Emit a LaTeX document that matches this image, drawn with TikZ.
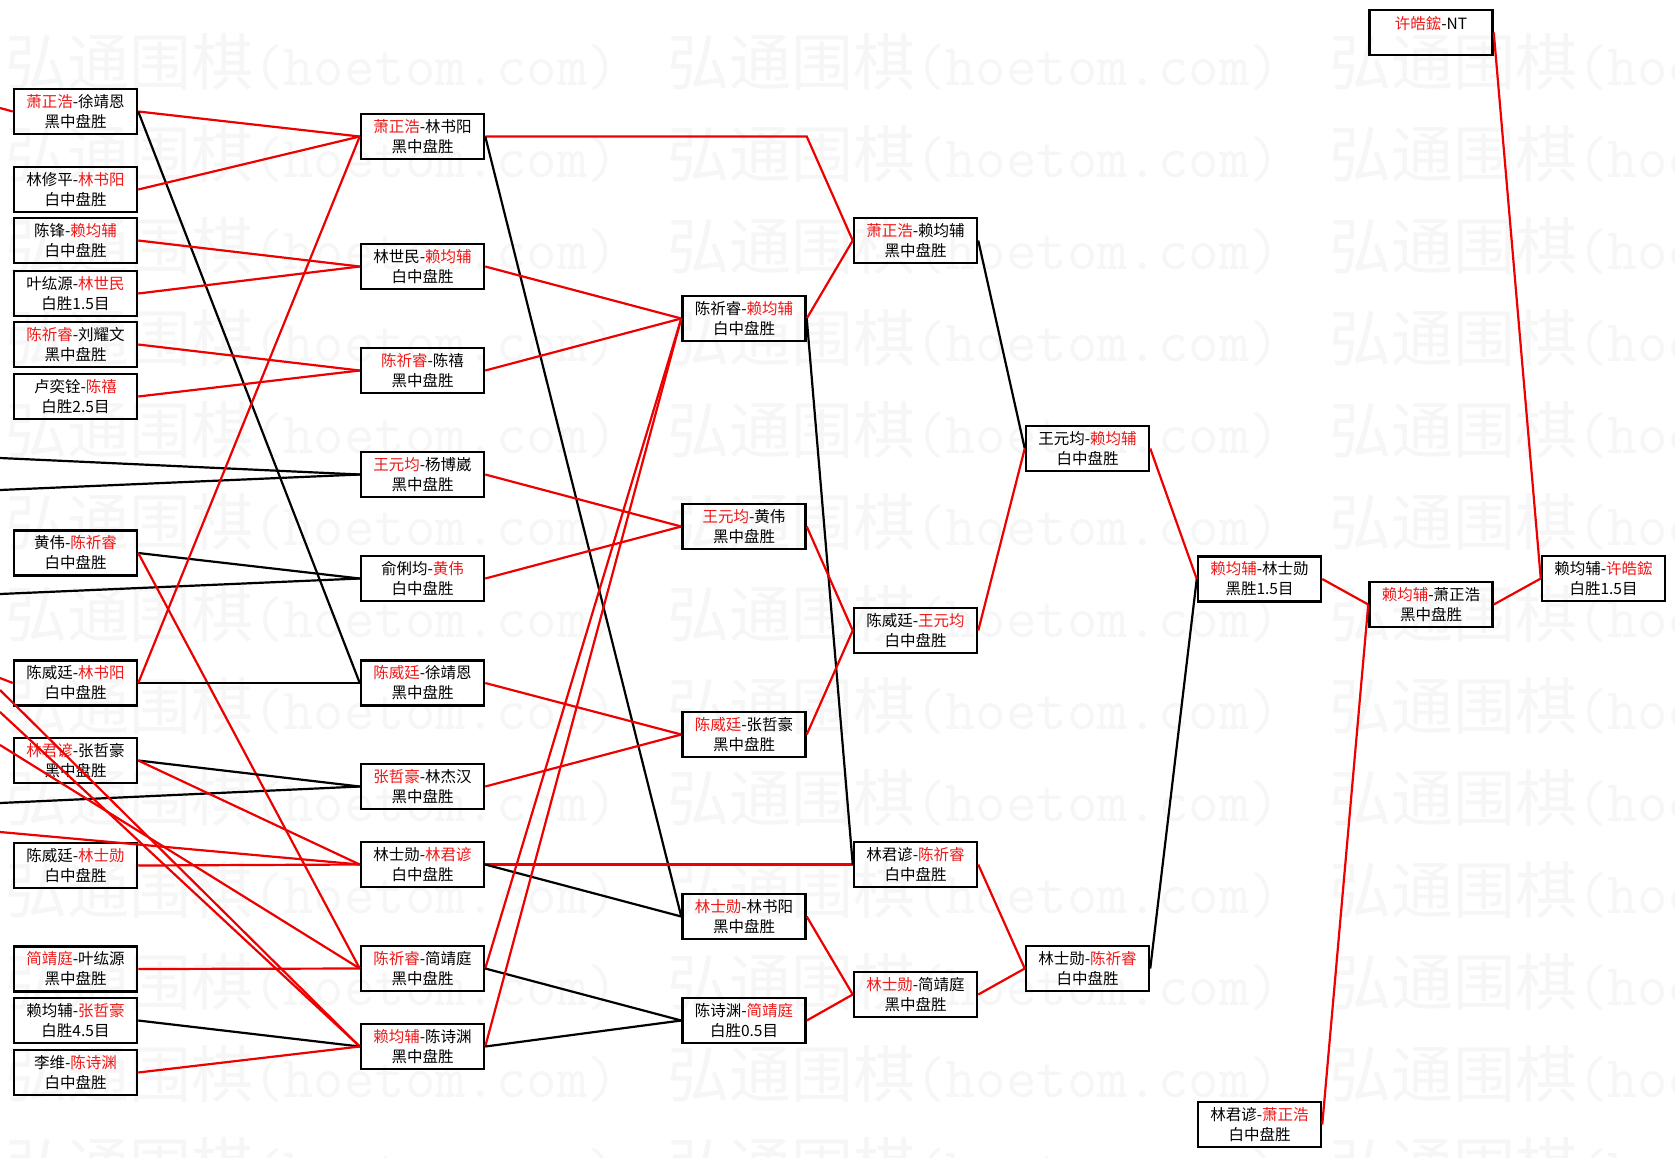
\documentclass[tikz,border=0pt]{standalone}
\usepackage{fontspec}
\setmainfont{Noto Sans CJK SC}
\newfontfamily\cjk{Noto Sans CJK SC}
\usetikzlibrary{positioning}
\definecolor{hwred}{HTML}{EE0000}
\definecolor{hwtext}{HTML}{F01818}
\definecolor{hwmark}{HTML}{F6F6F6}
\newcommand{\wn}[1]{\textcolor{hwtext}{#1}}
\tikzset{
    match/.style={
        rectangle, draw=black, line width=2.5pt,
        minimum width=123pt, minimum height=45pt,
        inner sep=0pt, align=center,
        font=\fontsize{15.5}{20}\selectfont
    },
    win/.style={draw=hwred, line width=2.2pt},
    lose/.style={draw=black, line width=2.2pt},
    wmark/.style={anchor=west, inner sep=0pt, text=hwmark},
}

\begin{document}
\begin{tikzpicture}[x=1pt, y=-1pt]

    % Page
    \fill[white] (0,0) rectangle (1675,1157);
    \useasboundingbox (0,0) rectangle (1675,1157);

    % Watermark
    \begin{scope}
        \clip (0,0) rectangle (1675,1157);
        \foreach \row in {0,...,12}
            \foreach \col in {0,1,2}
                \node[wmark] at (5+662*\col, 62+92*\row)
                    {{\cjk\fontsize{62}{62}\selectfont 弘通围棋}{\ttfamily\fontsize{59}{59}\selectfont (hoetom.com)}};
    \end{scope}

    % Round 1
    \node[match] (a1)  at (75.5,111.5)  {\wn{萧正浩}-徐靖恩\\黑中盘胜};
    \node[match] (a2)  at (75.5,189.5)  {林修平-\wn{林书阳}\\白中盘胜};
    \node[match] (a3)  at (75.5,240.5)  {陈锋-\wn{赖均辅}\\白中盘胜};
    \node[match] (a4)  at (75.5,293.5)  {叶纮源-\wn{林世民}\\白胜1.5目};
    \node[match] (a5)  at (75.5,344.5)  {\wn{陈祈睿}-刘耀文\\黑中盘胜};
    \node[match] (a6)  at (75.5,396.5)  {卢奕铨-\wn{陈禧}\\白胜2.5目};
    \node[match] (a7)  at (75.5,553)    {黄伟-\wn{陈祈睿}\\白中盘胜};
    \node[match] (a8)  at (75.5,683)    {陈威廷-\wn{林书阳}\\白中盘胜};
    \node[match] (a9)  at (75.5,760.5)  {\wn{林君谚}-张哲豪\\黑中盘胜};
    \node[match] (a10) at (75.5,865.5)  {陈威廷-\wn{林士勋}\\白中盘胜};
    \node[match] (a11) at (75.5,969)    {\wn{简靖庭}-叶纮源\\黑中盘胜};
    \node[match] (a12) at (75.5,1020.5) {赖均辅-\wn{张哲豪}\\白胜4.5目};
    \node[match] (a13) at (75.5,1072.5) {李维-\wn{陈诗渊}\\白中盘胜};

    % Round 2
    \node[match] (b1)  at (422.5,136.5)  {\wn{萧正浩}-林书阳\\黑中盘胜};
    \node[match] (b2)  at (422.5,266.5)  {林世民-\wn{赖均辅}\\白中盘胜};
    \node[match] (b3)  at (422.5,370.5)  {\wn{陈祈睿}-陈禧\\黑中盘胜};
    \node[match] (b4)  at (422.5,474.5)  {\wn{王元均}-杨博崴\\黑中盘胜};
    \node[match] (b5)  at (422.5,578.5)  {俞俐均-\wn{黄伟}\\白中盘胜};
    \node[match] (b6)  at (422.5,683)    {\wn{陈威廷}-徐靖恩\\黑中盘胜};
    \node[match] (b7)  at (422.5,786.5)  {\wn{张哲豪}-林杰汉\\黑中盘胜};
    \node[match] (b8)  at (422.5,864.5)  {林士勋-\wn{林君谚}\\白中盘胜};
    \node[match] (b9)  at (422.5,968.5)  {\wn{陈祈睿}-简靖庭\\黑中盘胜};
    \node[match] (b10) at (422.5,1046.5) {\wn{赖均辅}-陈诗渊\\黑中盘胜};

    % Round 3
    \node[match] (c1) at (744,318.5)  {陈祈睿-\wn{赖均辅}\\白中盘胜};
    \node[match] (c2) at (744,526.5)  {\wn{王元均}-黄伟\\黑中盘胜};
    \node[match] (c3) at (744,734.5)  {\wn{陈威廷}-张哲豪\\黑中盘胜};
    \node[match] (c4) at (744,916.5)  {\wn{林士勋}-林书阳\\黑中盘胜};
    \node[match] (c5) at (744,1020.5) {陈诗渊-\wn{简靖庭}\\白胜0.5目};

    % Round 4
    \node[match] (d1) at (915.5,240.5) {\wn{萧正浩}-赖均辅\\黑中盘胜};
    \node[match] (d2) at (915.5,630.5) {陈威廷-\wn{王元均}\\白中盘胜};
    \node[match] (d3) at (915.5,864.5) {林君谚-\wn{陈祈睿}\\白中盘胜};
    \node[match] (d4) at (915.5,994.5) {\wn{林士勋}-简靖庭\\黑中盘胜};

    % Round 5 and later
    \node[match] (e1) at (1087.5,448.5)  {王元均-\wn{赖均辅}\\白中盘胜};
    \node[match] (e2) at (1087.5,968.5)  {林士勋-\wn{陈祈睿}\\白中盘胜};
    \node[match] (f1) at (1259.5,579)    {\wn{赖均辅}-林士勋\\黑胜1.5目};
    \node[match] (f2) at (1259.5,1124.5) {林君谚-\wn{萧正浩}\\白中盘胜};
    \node[match] (g1) at (1431,32.5)     {\wn{许皓鋐}-NT\\\mbox{}};
    \node[match] (g2) at (1431,604.5)    {\wn{赖均辅}-萧正浩\\黑中盘胜};
    \node[match] (h1) at (1603.5,578.5)  {赖均辅-\wn{许皓鋐}\\白胜1.5目};

    % Lines coming in from the left edge
    \coordinate (inA1) at (0,108);
    \coordinate (inA8) at (0,678);
    \coordinate (inB4a) at (0,458);
    \coordinate (inB4b) at (0,490);
    \coordinate (inB5) at (0,594);
    \coordinate (inB7) at (0,803);
    \coordinate (inB8) at (0,832);
    \coordinate (inB9) at (0,745);
    \coordinate (inB10a) at (0,690);
    \coordinate (inB10b) at (0,712);

    \draw[win]  (inA1) -- (a1.west);
    \draw[win]  (inA8) -- (a8.west);
    \draw[lose] (inB4a) -- (b4.west);
    \draw[lose] (inB4b) -- (b4.west);
    \draw[lose] (inB5) -- (b5.west);
    \draw[lose] (inB7) -- (b7.west);
    \draw[win]  (inB8) -- (b8.west);
    \draw[win]  (inB9) -- (b9.west);
    \draw[win]  (inB10a) -- (b10.west);
    \draw[win]  (inB10b) -- (b10.west);

    % Round 1 -> round 2
    \draw[win]  (a1.east) -- (b1.west);
    \draw[lose] (a1.east) -- (b6.west);
    \draw[win]  (a2.east) -- (b1.west);
    \draw[win]  (a3.east) -- (b2.west);
    \draw[win]  (a4.east) -- (b2.west);
    \draw[win]  (a5.east) -- (b3.west);
    \draw[win]  (a6.east) -- (b3.west);
    \draw[lose] (a7.east) -- (b5.west);
    \draw[win]  (a7.east) -- (b9.west);
    \draw[lose] (a8.east) -- (b6.west);
    \draw[win]  (a8.east) -- (b1.west);
    \draw[lose] (a9.east) -- (b7.west);
    \draw[win]  (a9.east) -- (b8.west);
    \draw[win]  (a10.east) -- (b8.west);
    \draw[win]  (a11.east) -- (b9.west);
    \draw[lose] (a12.east) -- (b10.west);
    \draw[win]  (a13.east) -- (b10.west);

    % Round 2 -> round 3
    \draw[win]  (b1.east) -- (c1.east |- b1.east) -- (d1.west);
    \draw[lose] (b1.east) -- (c4.west);
    \draw[win]  (b2.east) -- (c1.west);
    \draw[win]  (b3.east) -- (c1.west);
    \draw[win]  (b4.east) -- (c2.west);
    \draw[win]  (b5.east) -- (c2.west);
    \draw[win]  (b6.east) -- (c3.west);
    \draw[win]  (b7.east) -- (c3.west);
    \draw[win]  (b8.east) -- (d3.west);
    \draw[lose] (b8.east) -- (c4.west);
    \draw[win]  (b9.east) -- (c1.west);
    \draw[lose] (b9.east) -- (c5.west);
    \draw[win]  (b10.east) -- (c1.west);
    \draw[lose] (b10.east) -- (c5.west);

    % Round 3 -> round 4
    \draw[win]  (c1.east) -- (d1.west);
    \draw[lose] (c1.east) -- (d3.west);
    \draw[win]  (c2.east) -- (d2.west);
    \draw[win]  (c3.east) -- (d2.west);
    \draw[win]  (c4.east) -- (d4.west);
    \draw[win]  (c5.east) -- (d4.west);

    % Later rounds
    \draw[lose] (d1.east) -- (e1.west);
    \draw[win]  (d2.east) -- (e1.west);
    \draw[win]  (d3.east) -- (e2.west);
    \draw[win]  (d4.east) -- (e2.west);
    \draw[win]  (e1.east) -- (f1.west);
    \draw[lose] (e2.east) -- (f1.west);
    \draw[win]  (f1.east) -- (g2.west);
    \draw[win]  (f2.east) -- (g2.west);
    \draw[win]  (g1.east) -- (h1.west);
    \draw[win]  (g2.east) -- (h1.west);

\end{tikzpicture}
\end{document}
